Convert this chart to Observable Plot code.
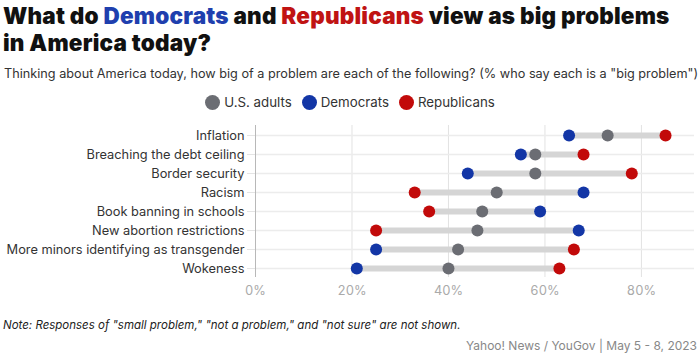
<!DOCTYPE html>
<html><head><meta charset="utf-8">
<script src="https://cdn.jsdelivr.net/npm/d3@7"></script>
<script src="https://cdn.jsdelivr.net/npm/@observablehq/plot@0.6"></script>
<style>
body{margin:0;width:700px;height:355px;overflow:hidden;background:#fff;font-family:Inter,"Noto Sans",sans-serif;position:relative;}
.tline{position:absolute;left:3px;font-weight:900;font-size:22.5px;line-height:23px;height:23px;color:#111;letter-spacing:0.2px;white-space:nowrap}
#t1{top:4px}
#t2{top:31.4px}
#subtitle{position:absolute;left:4px;top:66px;font-size:12.7px;color:#333;white-space:nowrap}
#legend{position:absolute;left:0;width:700px;top:94px;text-align:center;font-size:13.3px;color:#333;white-space:nowrap}
#legend .item{display:inline-flex;align-items:center;margin:0 5px}
#legend .sw{display:inline-block;width:15px;height:15px;border-radius:50%;margin-right:4px}
#chart{position:absolute;left:0;top:118px}
#note{position:absolute;left:3px;top:318px;font-size:11.5px;font-style:italic;color:#222;white-space:nowrap}
#source{position:absolute;right:3px;top:338px;font-size:12px;color:#888;white-space:nowrap}
</style></head>
<body>
<div id="t1" class="tline"></div>
<div id="t2" class="tline"></div>
<div id="subtitle"></div>
<div id="legend"></div>
<div id="chart"></div>
<div id="note"></div>
<div id="source"></div>
<script>
const categories = ["Inflation","Breaching the debt ceiling","Border security","Racism","Book banning in schools","New abortion restrictions","More minors identifying as transgender","Wokeness"];
const usAdults    = [73, 58, 58, 50, 47, 46, 42, 40];
const democrats   = [65, 55, 44, 68, 59, 67, 25, 21];
const republicans = [85, 68, 78, 33, 36, 25, 66, 63];
const seriesNames = ["U.S. adults", "Democrats", "Republicans"];
const seriesColors = ["#6b6d73", "#1336a6", "#c20a0a"];
const xTicks = [0, 20, 40, 60, 80];

document.getElementById("t1").innerHTML = 'What do <span style="color:#1f3fae">Democrats</span> and <span style="color:#c01313">Republicans</span> view as big problems';
document.getElementById("t2").textContent = 'in America today?';
document.getElementById("subtitle").textContent = 'Thinking about America today, how big of a problem are each of the following? (% who say each is a "big problem")';
document.getElementById("note").textContent = 'Note: Responses of "small problem," "not a problem," and "not sure" are not shown.';
document.getElementById("source").textContent = "Yahoo! News / YouGov | May 5 - 8, 2023";

const legend = document.getElementById("legend");
seriesNames.forEach((n, i) => {
  const it = document.createElement("span"); it.className = "item";
  const sw = document.createElement("span"); sw.className = "sw"; sw.style.background = seriesColors[i];
  it.appendChild(sw); it.appendChild(document.createTextNode(n));
  legend.appendChild(it);
});

const rows = categories.map((c, i) => ({cat: c, us: usAdults[i], dem: democrats[i], rep: republicans[i],
  lo: Math.min(usAdults[i], democrats[i], republicans[i]), hi: Math.max(usAdults[i], democrats[i], republicans[i])}));
const pts = [];
rows.forEach(r => {
  pts.push({cat: r.cat, v: r.us, s: seriesNames[0]});
  pts.push({cat: r.cat, v: r.dem, s: seriesNames[1]});
  pts.push({cat: r.cat, v: r.rep, s: seriesNames[2]});
});

const chart = Plot.plot({
  width: 700,
  height: 192,
  marginLeft: 255,
  marginRight: 6,
  marginTop: 7,
  marginBottom: 33,
  style: {fontFamily: "Inter, 'Noto Sans', sans-serif", fontSize: "12.8px", color: "#333", background: "#fff"},
  x: {domain: [0, 91], ticks: xTicks, tickFormat: d => d + "%", label: null},
  y: {domain: categories, type: "point", padding: 0.33, label: null},
  color: {domain: seriesNames, range: seriesColors},
  marks: [
    Plot.ruleX(xTicks.filter(d => d > 0), {stroke: "#e2e2e2", strokeWidth: 1}),
    Plot.ruleY(categories, {y: d => d, stroke: "#ececec", strokeWidth: 1.5}),
    Plot.ruleX([0], {stroke: "#b8b8b8", strokeWidth: 1}),
    Plot.axisX({ticks: xTicks, tickFormat: d => d + "%", tickSize: 0, tickPadding: 8, fill: "#aaa", fontSize: "12.8px", label: null}),
    Plot.axisY({tickSize: 8, stroke: "#e4e4e4", tickPadding: 3, fill: "#333", fontSize: "12.8px", label: null}),
    Plot.ruleY(rows, {y: "cat", x1: "lo", x2: "hi", stroke: "#d5d5d5", strokeWidth: 6}),
    Plot.dot(pts, {x: "v", y: "cat", fill: "s", r: 6, stroke: "none"})
  ]
});
document.getElementById("chart").appendChild(chart);
</script>
</body></html>
